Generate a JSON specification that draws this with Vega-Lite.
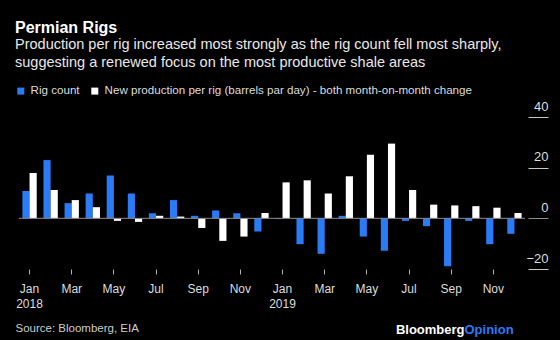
{
  "$schema": "https://vega.github.io/schema/vega-lite/v6.json",
  "width": 506,
  "height": 152,
  "autosize": {"type": "none"},
  "padding": {"left": 19, "top": 117, "right": 35, "bottom": 71},
  "background": "#000000",
  "config": {"font": "Liberation Sans", "view": {"stroke": null}},
  "title": {
    "text": "Permian Rigs",
    "subtitle": ["Production per rig increased most strongly as the rig count fell most sharply,", "suggesting a renewed focus on the most productive shale areas"],
    "anchor": "start",
    "frame": "group",
    "dx": -4,
    "offset": 16,
    "fontSize": 16,
    "fontWeight": "bold",
    "color": "#ffffff",
    "subtitleFontSize": 14.5,
    "subtitleColor": "#e8e8e8",
    "subtitleLineHeight": 18,
    "subtitlePadding": 2
  },
  "data": {
    "values": [
      {"month": "2018-01", "series": "Rig count", "value": 10.8},
      {"month": "2018-02", "series": "Rig count", "value": 23.0},
      {"month": "2018-03", "series": "Rig count", "value": 6.0},
      {"month": "2018-04", "series": "Rig count", "value": 9.8},
      {"month": "2018-05", "series": "Rig count", "value": 16.9},
      {"month": "2018-06", "series": "Rig count", "value": 9.8},
      {"month": "2018-07", "series": "Rig count", "value": 2.0},
      {"month": "2018-08", "series": "Rig count", "value": 7.2},
      {"month": "2018-09", "series": "Rig count", "value": 1.0},
      {"month": "2018-10", "series": "Rig count", "value": 3.1},
      {"month": "2018-11", "series": "Rig count", "value": 2.0},
      {"month": "2018-12", "series": "Rig count", "value": -5.2},
      {"month": "2019-01", "series": "Rig count", "value": -0.3},
      {"month": "2019-02", "series": "Rig count", "value": -10.2},
      {"month": "2019-03", "series": "Rig count", "value": -14.0},
      {"month": "2019-04", "series": "Rig count", "value": 1.0},
      {"month": "2019-05", "series": "Rig count", "value": -7.2},
      {"month": "2019-06", "series": "Rig count", "value": -12.8},
      {"month": "2019-07", "series": "Rig count", "value": -1.0},
      {"month": "2019-08", "series": "Rig count", "value": -3.1},
      {"month": "2019-09", "series": "Rig count", "value": -18.9},
      {"month": "2019-10", "series": "Rig count", "value": -1.0},
      {"month": "2019-11", "series": "Rig count", "value": -10.2},
      {"month": "2019-12", "series": "Rig count", "value": -6.1},
      {"month": "2018-01", "series": "New production per rig (barrels par day) - both month-on-month change", "value": 17.9},
      {"month": "2018-02", "series": "New production per rig (barrels par day) - both month-on-month change", "value": 11.2},
      {"month": "2018-03", "series": "New production per rig (barrels par day) - both month-on-month change", "value": 7.2},
      {"month": "2018-04", "series": "New production per rig (barrels par day) - both month-on-month change", "value": 4.4},
      {"month": "2018-05", "series": "New production per rig (barrels par day) - both month-on-month change", "value": -1.0},
      {"month": "2018-06", "series": "New production per rig (barrels par day) - both month-on-month change", "value": -1.4},
      {"month": "2018-07", "series": "New production per rig (barrels par day) - both month-on-month change", "value": 1.0},
      {"month": "2018-08", "series": "New production per rig (barrels par day) - both month-on-month change", "value": 0.7},
      {"month": "2018-09", "series": "New production per rig (barrels par day) - both month-on-month change", "value": -3.8},
      {"month": "2018-10", "series": "New production per rig (barrels par day) - both month-on-month change", "value": -8.9},
      {"month": "2018-11", "series": "New production per rig (barrels par day) - both month-on-month change", "value": -7.2},
      {"month": "2018-12", "series": "New production per rig (barrels par day) - both month-on-month change", "value": 2.1},
      {"month": "2019-01", "series": "New production per rig (barrels par day) - both month-on-month change", "value": 14.2},
      {"month": "2019-02", "series": "New production per rig (barrels par day) - both month-on-month change", "value": 15.0},
      {"month": "2019-03", "series": "New production per rig (barrels par day) - both month-on-month change", "value": 9.8},
      {"month": "2019-04", "series": "New production per rig (barrels par day) - both month-on-month change", "value": 16.6},
      {"month": "2019-05", "series": "New production per rig (barrels par day) - both month-on-month change", "value": 25.1},
      {"month": "2019-06", "series": "New production per rig (barrels par day) - both month-on-month change", "value": 29.5},
      {"month": "2019-07", "series": "New production per rig (barrels par day) - both month-on-month change", "value": 11.2},
      {"month": "2019-08", "series": "New production per rig (barrels par day) - both month-on-month change", "value": 5.4},
      {"month": "2019-09", "series": "New production per rig (barrels par day) - both month-on-month change", "value": 5.1},
      {"month": "2019-10", "series": "New production per rig (barrels par day) - both month-on-month change", "value": 4.8},
      {"month": "2019-11", "series": "New production per rig (barrels par day) - both month-on-month change", "value": 4.2},
      {"month": "2019-12", "series": "New production per rig (barrels par day) - both month-on-month change", "value": 2.1}
    ]
  },
  "layer": [
    {
      "mark": {"type": "bar"},
      "encoding": {
        "x": {
          "field": "month",
          "type": "ordinal",
          "scale": {"paddingInner": 0.32, "paddingOuter": 0.16},
          "axis": {
            "values": ["2018-01", "2018-03", "2018-05", "2018-07", "2018-09", "2018-11", "2019-01", "2019-03", "2019-05", "2019-07", "2019-09", "2019-11"],
            "labelExpr": "[['Jan','Feb','Mar','Apr','May','Jun','Jul','Aug','Sep','Oct','Nov','Dec'][toNumber(substring(datum.value,5,7))-1], substring(datum.value,5,7)=='01' ? substring(datum.value,0,4) : '']",
            "tickSize": 5,
            "tickColor": "#b0b0b0",
            "domain": false,
            "grid": false,
            "labelPadding": 9,
            "labelFontSize": 12,
            "labelColor": "#dddddd",
            "labelAngle": 0,
            "labelLineHeight": 15,
            "labelBaseline": "top",
            "title": "Source: Bloomberg, EIA",
            "titleAnchor": "start",
            "titleAlign": "left",
            "titleX": -4,
            "titleY": 62,
            "titleBaseline": "alphabetic",
            "titleFontSize": 11.5,
            "titleFontWeight": "normal",
            "titleColor": "#cccccc"
          }
        },
        "xOffset": {
          "field": "series",
          "type": "nominal",
          "sort": ["Rig count", "New production per rig (barrels par day) - both month-on-month change"]
        },
        "y": {
          "field": "value",
          "type": "quantitative",
          "scale": {"domain": [-20, 40], "nice": false, "zero": false},
          "axis": {
            "orient": "right",
            "offset": 3,
            "values": [-20, 0, 20, 40],
            "tickSize": 20,
            "tickColor": {"condition": {"test": "datum.value === 0", "value": "#8c8c8c"}, "value": "#c8c8c8"},
            "domain": false,
            "grid": false,
            "labelAlign": "right",
            "labelBaseline": "bottom",
            "labelPadding": 0,
            "labelOffset": -4,
            "labelFontSize": 13,
            "labelColor": "#dddddd",
            "title": "Bloomberg",
            "titleAngle": 0,
            "titleX": -64,
            "titleY": 216,
            "titleAlign": "right",
            "titleBaseline": "alphabetic",
            "titleColor": "#ffffff",
            "titleFontSize": 13,
            "titleFontWeight": "bold"
          }
        },
        "color": {
          "field": "series",
          "type": "nominal",
          "scale": {
            "domain": ["Rig count", "New production per rig (barrels par day) - both month-on-month change"],
            "range": ["#2a7bf6", "#ffffff"]
          },
          "legend": {
            "orient": "none",
            "legendX": -4,
            "legendY": -32,
            "direction": "horizontal",
            "title": null,
            "symbolType": "square",
            "symbolSize": 49,
            "symbolStrokeWidth": 0,
            "labelFontSize": 11.6,
            "labelColor": "#dddddd",
            "labelLimit": 0,
            "columnPadding": 9,
            "labelOffset": 4
          }
        }
      }
    },
    {
      "data": {"values": [{}]},
      "mark": {"type": "rule", "color": "#8c8c8c", "strokeWidth": 1},
      "encoding": {
        "y": {
          "datum": 0,
          "type": "quantitative",
          "axis": {
            "orient": "left",
            "labels": false,
            "ticks": false,
            "domain": false,
            "grid": false,
            "title": "Opinion",
            "titleAngle": 0,
            "titleX": 445,
            "titleY": 216,
            "titleAlign": "left",
            "titleBaseline": "alphabetic",
            "titleColor": "#2a7bf6",
            "titleFontSize": 13,
            "titleFontWeight": "bold"
          }
        }
      }
    }
  ],
  "resolve": {"axis": {"y": "independent"}}
}
